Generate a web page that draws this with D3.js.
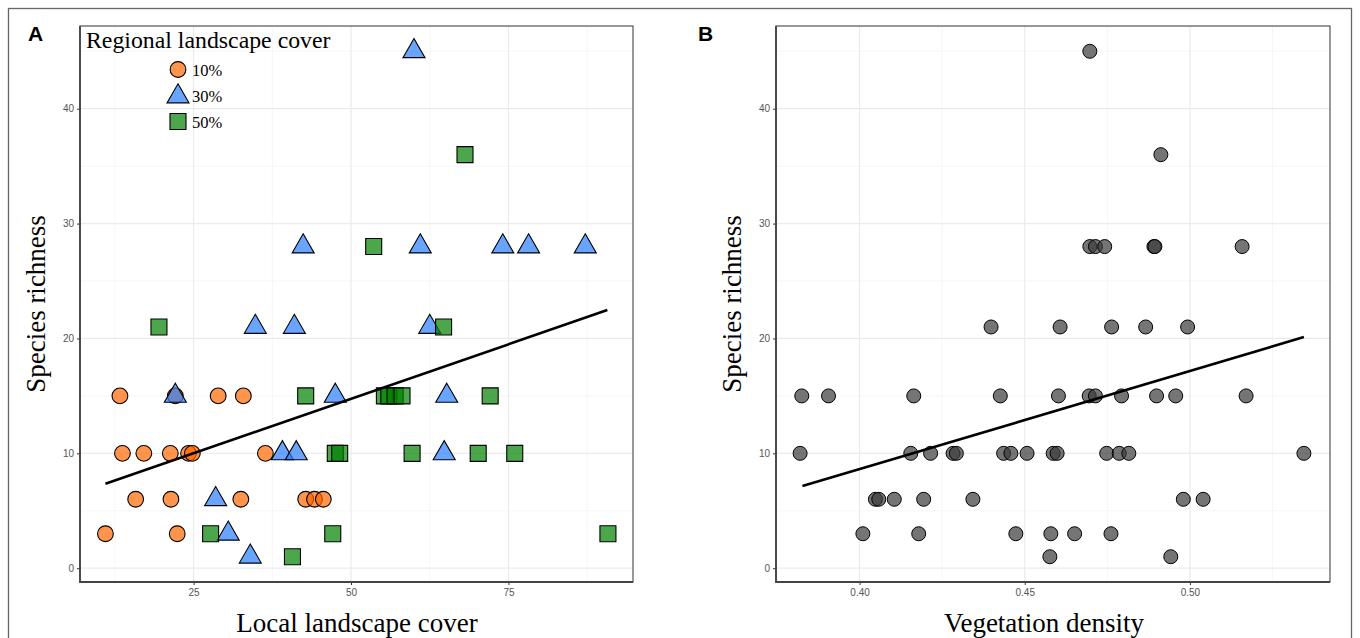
<!DOCTYPE html>
<html>
<head>
<meta charset="utf-8">
<script src="https://cdn.jsdelivr.net/npm/d3@7"></script>
<style>
body { margin: 0; background: #fff; }
</style>
</head>
<body>
<svg id="fig" width="1360" height="638"></svg>
<script>
// tick labels
var coverTicks = [25, 50, 75];
var densityTicks = [0.40, 0.45, 0.50];
var richTicks = [0, 10, 20, 30, 40];
var legendLabels = ["10%", "30%", "50%"];

// panel A: local landscape cover vs species richness, by regional cover
var local10 = [13.3, 22.1, 28.9, 32.9, 13.7, 17.1, 21.3, 24.2, 24.8, 36.4, 15.8, 21.4, 32.5, 42.8, 44.2, 45.6, 11.0, 22.4];
var rich10  = [15, 15, 15, 15, 10, 10, 10, 10, 10, 10, 6, 6, 6, 6, 6, 6, 3, 3];
var local30 = [60.0, 42.4, 61.0, 74.1, 78.2, 87.2, 34.8, 41.0, 62.5, 22.1, 47.5, 65.2, 39.1, 41.3, 64.8, 28.5, 30.5, 34.0];
var rich30  = [45, 28, 28, 28, 28, 28, 21, 21, 21, 15, 15, 15, 10, 10, 10, 6, 3, 1];
var local50 = [68.1, 53.6, 19.5, 64.7, 42.8, 55.3, 56.0, 57.0, 58.1, 72.1, 47.5, 48.2, 59.7, 70.2, 76.0, 27.7, 47.1, 90.8, 40.7];
var rich50  = [36, 28, 21, 21, 15, 15, 15, 15, 15, 15, 10, 10, 10, 10, 10, 3, 3, 3, 1];
var fitA = [[11.0, 7.35], [90.7, 22.47]];

// panel B: vegetation density vs species richness
var density = [0.4697, 0.4912,
    0.4697, 0.4714, 0.4742, 0.4891, 0.4894, 0.5158,
    0.4398, 0.4607, 0.4763, 0.4866, 0.4993,
    0.3825, 0.3906, 0.4164, 0.4426, 0.4602, 0.4695, 0.4714, 0.4793, 0.4899, 0.4957, 0.5170,
    0.3820, 0.4155, 0.4215, 0.4283, 0.4293, 0.4436, 0.4458, 0.4507, 0.4586, 0.4598, 0.4748, 0.4786, 0.4815, 0.5345,
    0.4048, 0.4058, 0.4105, 0.4194, 0.4343, 0.4980, 0.5040,
    0.4010, 0.4179, 0.4473, 0.4579, 0.4651, 0.4761,
    0.4576, 0.4942];
var richB = [45, 36,
    28, 28, 28, 28, 28, 28,
    21, 21, 21, 21, 21,
    15, 15, 15, 15, 15, 15, 15, 15, 15, 15, 15,
    10, 10, 10, 10, 10, 10, 10, 10, 10, 10, 10, 10, 10, 10,
    6, 6, 6, 6, 6, 6, 6,
    3, 3, 3, 3, 3, 3,
    1, 1];
var fitB = [[0.3827, 7.15], [0.5345, 20.12]];

var svg = d3.select("#fig");

// outer frame
svg.append("rect")
    .attr("x", 8.5).attr("y", 8.5)
    .attr("width", 1343).attr("height", 640)
    .attr("fill", "none")
    .attr("stroke", "#666")
    .attr("stroke-width", 1.3);

function drawPanel(left, right, xDomain, ticks, minor, fmt, letter, letterX, xTitle, titleX) {
    var top = 26, bottom = 582;
    var x = d3.scaleLinear().domain(xDomain).range([left, right]);
    var y = d3.scaleLinear().domain([-1.2, 47.2]).range([bottom, top]);
    var g = svg.append("g");

    // grid
    g.selectAll(".minx").data(minor).enter().append("line")
        .attr("x1", d => x(d)).attr("x2", d => x(d))
        .attr("y1", top).attr("y2", bottom)
        .attr("stroke", "#f2f2f2").attr("stroke-width", 0.7);
    g.selectAll(".miny").data([5, 15, 25, 35, 45]).enter().append("line")
        .attr("x1", left).attr("x2", right)
        .attr("y1", d => y(d)).attr("y2", d => y(d))
        .attr("stroke", "#f2f2f2").attr("stroke-width", 0.7);
    g.selectAll(".majx").data(ticks).enter().append("line")
        .attr("x1", d => x(d)).attr("x2", d => x(d))
        .attr("y1", top).attr("y2", bottom)
        .attr("stroke", "#ebebeb").attr("stroke-width", 1.2);
    g.selectAll(".majy").data(richTicks).enter().append("line")
        .attr("x1", left).attr("x2", right)
        .attr("y1", d => y(d)).attr("y2", d => y(d))
        .attr("stroke", "#ebebeb").attr("stroke-width", 1.2);

    // axes
    var xa = g.append("g")
        .attr("transform", "translate(0," + bottom + ")")
        .call(d3.axisBottom(x).tickValues(ticks).tickFormat(fmt).tickSize(3).tickPadding(4));
    var ya = g.append("g")
        .attr("transform", "translate(" + left + ",0)")
        .call(d3.axisLeft(y).tickValues(richTicks).tickSize(3).tickPadding(3));
    [xa, ya].forEach(a => {
        a.select(".domain").remove();
        a.selectAll("line").attr("stroke", "#333");
        a.selectAll("text")
            .attr("fill", "#555")
            .style("font-family", "'Liberation Sans', Arial, sans-serif")
            .style("font-size", "10px");
    });

    g.append("rect")
        .attr("x", left).attr("y", top)
        .attr("width", right - left).attr("height", bottom - top)
        .attr("fill", "none").attr("stroke", "#333").attr("stroke-width", 1);
    g.append("path")
        .attr("d", "M" + left + "," + top + "V" + bottom + "H" + right)
        .attr("fill", "none").attr("stroke", "#444").attr("stroke-width", 1.8);

    // titles
    svg.append("text")
        .attr("x", titleX).attr("y", 632)
        .attr("text-anchor", "middle")
        .style("font-family", "'Liberation Serif', 'Times New Roman', serif")
        .style("font-size", "27px")
        .text(xTitle);
    svg.append("text")
        .attr("transform", "translate(" + (left - 35) + "," + ((top + bottom) / 2) + ") rotate(-90)")
        .attr("text-anchor", "middle")
        .style("font-family", "'Liberation Serif', 'Times New Roman', serif")
        .style("font-size", "27px")
        .text("Species richness");
    svg.append("text")
        .attr("x", letterX).attr("y", 40.5)
        .style("font-family", "'Liberation Sans', Arial, sans-serif")
        .style("font-weight", "bold")
        .style("font-size", "21px")
        .text(letter);

    return { g: g, x: x, y: y };
}

function addPoints(p, xs, ys, type, size, fill, sw) {
    p.g.append("g").selectAll("path")
        .data(xs.map((v, i) => [v, ys[i]]))
        .enter().append("path")
        .attr("transform", d => "translate(" + p.x(d[0]) + "," + p.y(d[1]) + ")")
        .attr("d", d3.symbol().type(type).size(size))
        .attr("fill", fill)
        .attr("fill-opacity", 0.7)
        .attr("stroke", "#000")
        .attr("stroke-width", sw);
}

function addFit(p, fit) {
    p.g.append("path")
        .datum(fit)
        .attr("d", d3.line().x(d => p.x(d[0])).y(d => p.y(d[1])))
        .attr("fill", "none")
        .attr("stroke", "#000")
        .attr("stroke-width", 2.6);
}

var colA = ["#ff6600", "#2a7fff", "#008000"];
var shapes = [d3.symbolCircle, d3.symbolTriangle, d3.symbolSquare];
var sizes = [195, 210, 256];

var pa = drawPanel(80, 633, [6.96, 94.78], coverTicks, [12.5, 37.5, 62.5, 87.5], d3.format("d"), "A", 28, "Local landscape cover", 357);
addPoints(pa, local10, rich10, shapes[0], sizes[0], colA[0], 1.1);
addPoints(pa, local30, rich30, shapes[1], sizes[1], colA[1], 1.1);
addPoints(pa, local50, rich50, shapes[2], sizes[2], colA[2], 1.1);
addFit(pa, fitA);

// legend
var leg = svg.append("g");
leg.append("text")
    .attr("x", 86).attr("y", 48)
    .style("font-family", "'Liberation Serif', 'Times New Roman', serif")
    .style("font-size", "23.8px")
    .text("Regional landscape cover");
var legY = d3.scalePoint().domain(legendLabels).range([69.5, 121.5]);
legendLabels.forEach((lab, i) => {
    leg.append("path")
        .attr("transform", "translate(178," + (legY(lab) + (i === 1 ? 1 : 0)) + ")")
        .attr("d", d3.symbol().type(shapes[i]).size(sizes[i]))
        .attr("fill", colA[i]).attr("fill-opacity", 0.7)
        .attr("stroke", "#000").attr("stroke-width", 1.1);
    leg.append("text")
        .attr("x", 192).attr("y", legY(lab) + 6)
        .style("font-family", "'Liberation Serif', 'Times New Roman', serif")
        .style("font-size", "16.5px")
        .text(lab);
});

var pb = drawPanel(776, 1330, [0.3747, 0.5424], densityTicks, [0.375, 0.425, 0.475, 0.525], d3.format(".2f"), "B", 698, "Vegetation density", 1044);
addPoints(pb, density, richB, d3.symbolCircle, 154, "#3a3a3a", 1);
addFit(pb, fitB);
</script>
</body>
</html>
